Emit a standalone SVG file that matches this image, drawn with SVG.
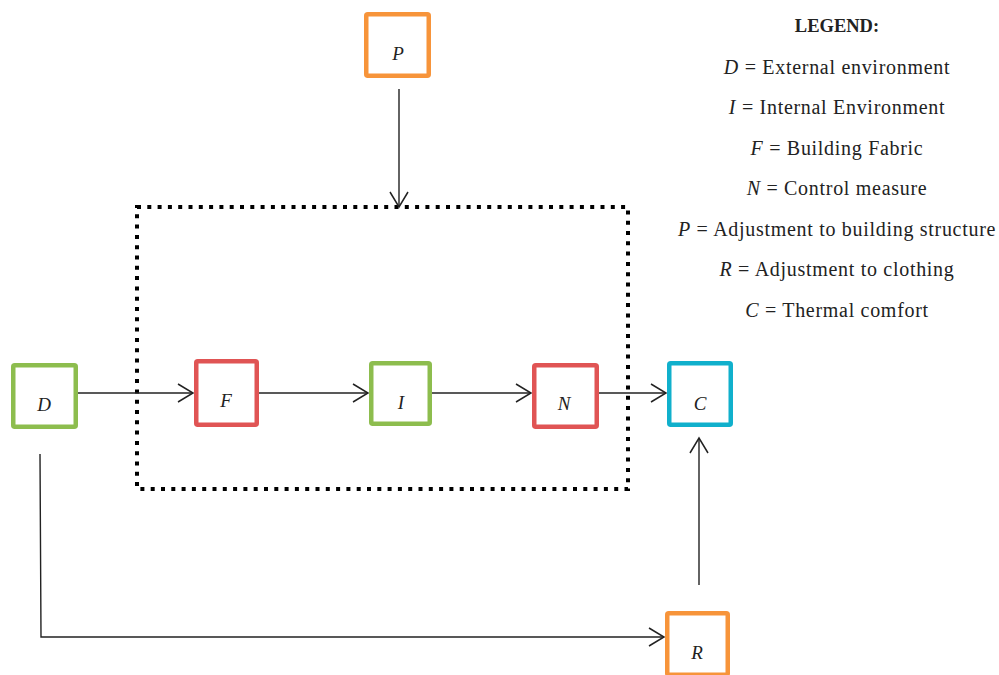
<svg xmlns="http://www.w3.org/2000/svg" width="999" height="675" viewBox="0 0 999 675">
<style>
.box{fill:#fff;stroke-width:4.5}
.red{stroke:#e05454}
.green{stroke:#8dbd4e}
.orange{stroke:#f7943a}
.cyan{stroke:#10b0cc}
.lbl{font-family:"Liberation Serif",serif;font-style:italic;font-size:19px;fill:#222;text-anchor:middle}
.leg{font-family:"Liberation Serif",serif;font-size:20px;letter-spacing:0.7px;fill:#222;text-anchor:middle}
.title{font-family:"Liberation Serif",serif;font-size:18.5px;font-weight:bold;fill:#222;text-anchor:middle}
.conn{fill:none;stroke:#222;stroke-width:1.4}
</style>
<defs>
<marker id="arr" markerUnits="userSpaceOnUse" markerWidth="20" markerHeight="24" viewBox="-17 -12 20 24" refX="0" refY="0" orient="auto">
<path d="M-15,-9 L0,0 L-15,9" fill="none" stroke="#222" stroke-width="1.5"/>
</marker>
</defs>
<rect id="boundary" x="137" y="207" width="491" height="282" fill="none" stroke="#000" stroke-width="4" stroke-dasharray="4 6.3"/>
<g id="connectors">
<line class="conn" x1="78" y1="393" x2="193" y2="393" marker-end="url(#arr)"/>
<line class="conn" x1="259" y1="393" x2="368" y2="393" marker-end="url(#arr)"/>
<line class="conn" x1="432" y1="393" x2="531" y2="393" marker-end="url(#arr)"/>
<line class="conn" x1="599" y1="393" x2="666" y2="393" marker-end="url(#arr)"/>
<line class="conn" x1="399" y1="89" x2="399" y2="207" marker-end="url(#arr)"/>
<line class="conn" x1="699" y1="585" x2="699" y2="438" marker-end="url(#arr)"/>
<polyline class="conn" points="40,454 41,637 664,637" stroke="#444" marker-end="url(#arr)"/>
</g>
<g id="node-P"><rect class="box orange" x="366.25" y="14.25" width="62.5" height="61.5" rx="1.5"/><text class="lbl" x="398" y="60">P</text></g>
<g id="node-D"><rect class="box green" x="13.25" y="365.25" width="62.5" height="61.5" rx="1.5"/><text class="lbl" x="44" y="411">D</text></g>
<g id="node-F"><rect class="box red" x="196.25" y="361.25" width="60.5" height="63.5" rx="1.5"/><text class="lbl" x="226" y="407">F</text></g>
<g id="node-I"><rect class="box green" x="371.25" y="363.25" width="58.5" height="60.5" rx="1.5"/><text class="lbl" x="401" y="409">I</text></g>
<g id="node-N"><rect class="box red" x="534.25" y="365.25" width="62.5" height="61.5" rx="1.5"/><text class="lbl" x="564" y="410">N</text></g>
<g id="node-C"><rect class="box cyan" x="669.25" y="363.25" width="61.5" height="61.5" rx="1.5"/><text class="lbl" x="700" y="410">C</text></g>
<g id="node-R"><rect class="box orange" x="667.25" y="613.25" width="60.5" height="61.5" rx="1.5"/><text class="lbl" x="697" y="659">R</text></g>
<g id="legend">
<text class="title" x="837" y="32">LEGEND:</text>
<text class="leg" x="837" y="74"><tspan font-style="italic">D</tspan> = External environment</text>
<text class="leg" x="837" y="114"><tspan font-style="italic">I</tspan> = Internal Environment</text>
<text class="leg" x="837" y="155"><tspan font-style="italic">F</tspan> = Building Fabric</text>
<text class="leg" x="837" y="195"><tspan font-style="italic">N</tspan> = Control measure</text>
<text class="leg" x="837" y="236"><tspan font-style="italic">P</tspan> = Adjustment to building structure</text>
<text class="leg" x="837" y="276"><tspan font-style="italic">R</tspan> = Adjustment to clothing</text>
<text class="leg" x="837" y="317"><tspan font-style="italic">C</tspan> = Thermal comfort</text>
</g>
</svg>
